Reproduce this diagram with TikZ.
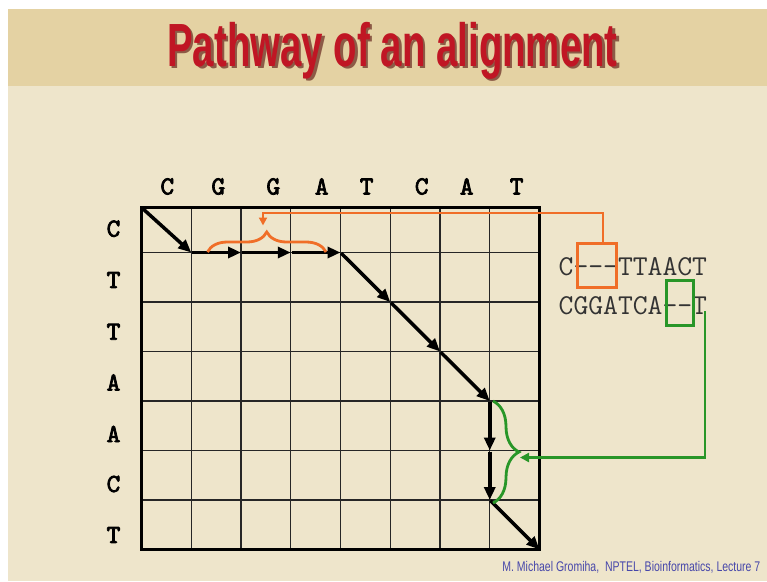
\documentclass[tikz,border=0pt]{standalone}
\usepackage{fontspec}
\setmainfont{Liberation Sans}
\newfontfamily\titlefont[FakeStretch=0.63]{Liberation Sans}
\newfontfamily\footfont[FakeStretch=0.75]{Liberation Sans}
\newfontfamily\labfont[Extension=.otf, FakeBold=3]{lmmono10-regular}
\usetikzlibrary{arrows.meta,decorations.pathreplacing}
\definecolor{titlered}{RGB}{192,22,36}
\definecolor{shadowc}{RGB}{140,90,70}
\definecolor{orangec}{RGB}{240,110,40}
\definecolor{greenc}{RGB}{40,150,40}
\definecolor{footblue}{RGB}{70,70,170}
\definecolor{titlebg}{RGB}{228,210,163}
\definecolor{bodybg}{RGB}{238,229,203}
\tikzset{
  thinline/.style={line width=1.3pt, black!85},
  thickline/.style={line width=3.2pt, black},
  pathseg/.style={line width=3.5pt, black, -{Triangle[length=13pt,width=11pt]}, shorten <=1pt},
  orangeline/.style={line width=2.8pt, orangec},
  greenline/.style={line width=2.8pt, greenc},
  lab/.style={font=\labfont\fontsize{26}{30}\selectfont, inner sep=0pt},
  aln/.style={font=\ttfamily\fontsize{28.8}{32}\selectfont, inner sep=0pt, text=black!80},
  boxo/.style={draw=orangec, line width=2.8pt, inner sep=0pt},
  boxg/.style={draw=greenc, line width=2.8pt, inner sep=0pt},
}
\newcommand{\titletext}{Pathway of an alignment}
\begin{document}
\begin{tikzpicture}[x=1pt,y=-1pt]
\useasboundingbox (0,0) rectangle (767,581);
\fill[white] (0,0) rectangle (767,581);
\fill[bodybg] (7.5,8.5) rectangle (767,581);
\fill[titlebg] (7.5,8.5) rectangle (767,86);
% title with shadow
\node[anchor=base, inner sep=0pt, font=\titlefont\bfseries\fontsize{61}{70}\selectfont] (title) at (392.5,66)
  {\rlap{\kern2.5pt\raisebox{-2.5pt}{\textcolor{shadowc}{\titletext}}}\textcolor{titlered}{\titletext}};
% grid coordinates
\foreach \x [count=\i from 0] in {141.5,191.25,241,290.75,340.5,390.25,440,489.75,539.5} {
  \foreach \y [count=\j from 0] in {207.5,252.5,302,351.5,401,450.5,500,549.5} {
    \coordinate (p\i-\j) at (\x,\y);
  }
}
\foreach \i in {1,...,7} \draw[thinline] (p\i-0) -- (p\i-7);
\foreach \j in {1,...,6} \draw[thinline] (p0-\j) -- (p8-\j);
\draw[thickline] (p0-0) rectangle (p8-7);
% column labels
\foreach \x/\t/\n in {167.3/C/c1,218.3/G/c2,273.3/G/c3,321.7/A/c4,366.7/T/c5,421.7/C/c6,466.7/A/c7,516.7/T/c8}
  \node[lab] (\n) at (\x,186.5) {\t};
% row labels
\foreach \y/\t/\n in {228.7/C/r1,280/T/r2,331.7/T/r3,382.5/A/r4,434/A/r5,484/C/r6,535/T/r7}
  \node[lab] (\n) at (113.5,\y) {\t};
% path
\draw[pathseg] (p0-0) -- (p1-1);
\draw[pathseg] (p1-1) -- (p2-1);
\draw[pathseg] (p2-1) -- (p3-1);
\draw[pathseg] (p3-1) -- (p4-1);
\draw[pathseg] (p4-1) -- (p5-2);
\draw[pathseg] (p5-2) -- (p6-3);
\draw[pathseg] (p6-3) -- (p7-4);
\draw[pathseg] (p7-4) -- (p7-5);
\draw[pathseg] (p7-5) -- (p7-6);
\draw[pathseg] (p7-6) -- (p8-7);
% alignment text
\node[aln, anchor=base west] (s1) at (558.5,275) {C---TTAACT};
\node[aln, anchor=base west] (s2) at (558.5,314) {CGGATCA--T};
% boxes
\node[boxo, minimum width=39pt, minimum height=44pt] (obox) at (597,265.5) {};
\node[boxg, minimum width=26.5pt, minimum height=45.5pt] (gbox) at (680,303) {};
% orange connector and brace
\coordinate (oc) at (603,213);
\coordinate (otip) at (263,225.5);
\draw[orangeline, -{Triangle[length=8pt,width=8pt]}] (obox.north -| oc) |- (otip |- oc) -- (otip);
\coordinate (ob1) at (207.5,252);
\coordinate (ob2) at (326,252);
\draw[orangeline, decorate, decoration={brace, amplitude=20pt}] (ob1) -- (ob2);
% green connector and brace
\coordinate (gs) at (705,311);
\coordinate (gtip) at (520,457.5);
\draw[greenline, -{Triangle[length=9pt,width=9pt]}] (gs) |- (gtip);
\coordinate (gb1) at (493,401);
\coordinate (gb2) at (493,503);
\draw[greenline, decorate, decoration={brace, amplitude=26pt}] (gb1) -- (gb2);
% footer
\node[anchor=base east, text=footblue, inner sep=0pt, font=\footfont\fontsize{14}{16}\selectfont] (foot) at (760.5,571.5) {M. Michael Gromiha,\ \ NPTEL, Bioinformatics, Lecture 7};
\end{tikzpicture}
\end{document}
